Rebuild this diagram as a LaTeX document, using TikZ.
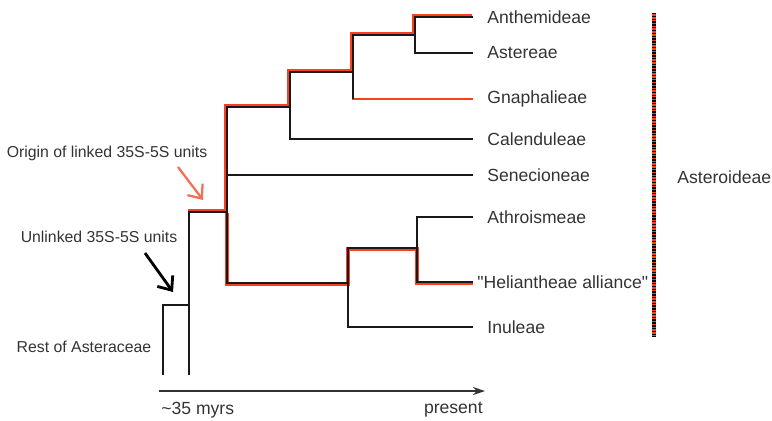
\documentclass[tikz,border=0pt]{standalone}
\usepackage{fontspec}
\setmainfont{Liberation Sans}
\usepackage{xcolor}
\usetikzlibrary{arrows.meta,positioning,calc}
\definecolor{hired}{RGB}{250,64,30}
\definecolor{arrred}{RGB}{244,112,84}
\definecolor{txtgray}{RGB}{51,51,51}

\begin{document}
\begin{tikzpicture}[x=0.2mm, y=-0.2mm,
  branch/.style={line width=1.3pt, black!90},
  hl/.style={line width=2.5pt, hired},
  leaf/.style={anchor=west, inner xsep=8pt, inner ysep=1pt, font=\fontsize{10}{12}\selectfont, text=txtgray},
  lab/.style={inner sep=1pt, font=\fontsize{9}{11}\selectfont, text=txtgray},
  arrow/.style={-{Straight Barb[length=2.3mm, width=3.8mm]}, line width=1.6pt}]

\useasboundingbox (0,0) rectangle (772,420);

% tribes
\node[leaf] (anth) at (473,17) {Anthemideae};
\node[leaf] (aste) at (473,53) {Astereae};
\node[leaf] (gnap) at (473,99) {Gnaphalieae};
\node[leaf] (cale) at (473,139) {Calenduleae};
\node[leaf] (sene) at (473,175) {Senecioneae};
\node[leaf] (athr) at (473,217) {Athroismeae};
\node[leaf, inner xsep=2.3pt] (heli) at (473,282) {\textquotedbl Heliantheae alliance\textquotedbl};
\node[leaf] (inul) at (473,327) {Inuleae};

% internal nodes
\coordinate (nA) at (415,35);
\coordinate (nB) at (353,72);
\coordinate (nC) at (290,107);
\coordinate (nD) at (227,212);
\coordinate (nF) at (417,248);
\coordinate (nG) at (348,283);
\coordinate (kink) at (189,305);
\coordinate (base) at (163,375);
\coordinate (stem) at (189,375);

% linked units, under the tree
\draw[hl, transform canvas={shift={(-0.6pt,0.6pt)}}] (stem |- nD) -- (nD) |- (nC) |- (nB) |- (nA) |- (anth.west);
\draw[hl, line width=1.5pt] (nB) |- (gnap.west);
\draw[hl, transform canvas={shift={(0pt,-0.6pt)}}] (nD) |- (nG) |- (nF) |- (heli.west);

% tree
\draw[branch] (base) |- (kink) -- (stem);
\draw[branch] (stem) |- (nD);
\draw[branch] (nD) |- (nC);
\draw[branch] (nD) |- (sene.west);
\draw[branch] (nD) |- (nG);
\draw[branch] (nC) |- (nB);
\draw[branch] (nC) |- (cale.west);
\draw[branch] (nB) |- (nA);
\draw[branch] (nB) -- (nB |- gnap.west);
\draw[branch] (nA) |- (anth.west);
\draw[branch] (nA) |- (aste.west);
\draw[branch] (nG) |- (nF);
\draw[branch] (nG) |- (inul.west);
\draw[branch] (nF) |- (athr.west);
\draw[branch] (nF) |- (heli.west);

% subfamily bar
\coordinate (barT) at (654,13);
\coordinate (barB) at (654,337);
\draw[line width=1.8pt, hired] (barT) -- (barB);
\draw[line width=1.8pt, black, dash pattern=on 0.8pt off 0.8pt] (barT) -- (barB);
\node[leaf, inner xsep=0pt] (astr) at (677,177) {Asteroideae};

% time axis
\coordinate (t0) at (159,391);
\coordinate (t1) at (485,391);
\draw[-{Stealth[length=2.4mm, width=1.6mm]}, line width=0.9pt, black!80] (t0) -- (t1);
\node[leaf, inner xsep=0pt] (ago) at (161,410) {\textasciitilde 35 myrs};
\node[leaf, anchor=east, inner xsep=0pt] (pres) at (483,410) {present};

% annotations
\node[lab] (orig) at (107,153) {Origin of linked 35S-5S units};
\node[lab] (unl) at (99,237) {Unlinked 35S-5S units};
\node[lab] (rest) at (84,347) {Rest of Asteraceae};

\coordinate (oriTail) at (178,167);
\coordinate (oriTip) at (203,200);
\coordinate (unlTail) at (145,253);
\coordinate (unlTip) at (173,292);
\draw[arrow, arrred, line width=1.3pt] (oriTail) -- (oriTip);
\draw[arrow] (unlTail) -- (unlTip);
\end{tikzpicture}
\end{document}
